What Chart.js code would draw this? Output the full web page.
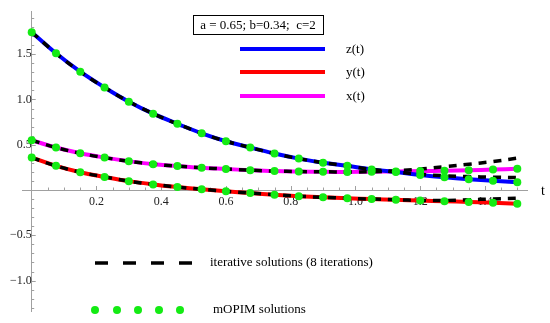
<!DOCTYPE html>
<html>
<head>
<meta charset="utf-8">
<script src="https://cdn.jsdelivr.net/npm/chart.js@4.4.1/dist/chart.umd.min.js"></script>
<style>
  body { margin: 0; background: #fff; }
  #wrap { width: 550px; height: 323px; }
</style>
</head>
<body>
<div id="wrap"><canvas id="plot" width="550" height="323"></canvas></div>
<script>
// sample times
const tValues = [0, 0.075, 0.15, 0.225, 0.3, 0.375, 0.45, 0.525, 0.6, 0.675, 0.75,
                 0.825, 0.9, 0.975, 1.05, 1.125, 1.2, 1.275, 1.35, 1.425, 1.5];

// mOPIM / exact curves
const zValues = [1.743, 1.51, 1.307, 1.133, 0.976, 0.843, 0.731, 0.626, 0.539, 0.469, 0.403,
                 0.347, 0.302, 0.267, 0.228, 0.198, 0.167, 0.141, 0.12, 0.103, 0.086];
const yValues = [0.358, 0.267, 0.197, 0.145, 0.098, 0.062, 0.033, 0.008, -0.014, -0.034, -0.052,
                 -0.068, -0.081, -0.091, -0.1, -0.108, -0.116, -0.124, -0.132, -0.141, -0.151];
const xValues = [0.55, 0.469, 0.406, 0.358, 0.318, 0.285, 0.265, 0.245, 0.232, 0.219, 0.209,
                 0.204, 0.201, 0.2, 0.202, 0.205, 0.209, 0.214, 0.219, 0.226, 0.235];

// iterative solutions (8 iterations), drift away near the end
const zIter = [1.743, 1.51, 1.307, 1.133, 0.976, 0.843, 0.731, 0.626, 0.539, 0.469, 0.403,
               0.347, 0.302, 0.267, 0.228, 0.199, 0.173, 0.158, 0.148, 0.142, 0.138];
const yIter = [0.358, 0.267, 0.197, 0.145, 0.098, 0.062, 0.033, 0.008, -0.014, -0.034, -0.052,
               -0.068, -0.081, -0.091, -0.1, -0.108, -0.114, -0.115, -0.107, -0.098, -0.09];
const xIter = [0.55, 0.469, 0.406, 0.358, 0.318, 0.285, 0.265, 0.245, 0.232, 0.219, 0.209,
               0.204, 0.201, 0.2, 0.202, 0.212, 0.232, 0.258, 0.285, 0.315, 0.352];

const xTickValues = [0.2, 0.4, 0.6, 0.8, 1.0, 1.2, 1.4];
const yTickValues = [-1.0, -0.5, 0.5, 1.0, 1.5];

const serif = "'Liberation Serif', 'Times New Roman', serif";
const green = "rgb(20,235,20)";

function pts(vals) {
    return tValues.map((t, i) => ({ x: t, y: vals[i] }));
}
function fmt(v) {
    return v.toFixed(1).replace("-", "\u2212");
}

// minor ticks, "t" label and the hand-made legends
const decorations = {
    id: "decorations",
    beforeDatasetsDraw(chart) {
        const ctx = chart.ctx;
        const xs = chart.scales.x, ys = chart.scales.y;
        const x0 = xs.getPixelForValue(0), y0 = ys.getPixelForValue(0);
        ctx.save();
        ctx.strokeStyle = "#a0a0a0";
        ctx.lineWidth = 1;
        ctx.beginPath();
        for (let v = 0.05; v < 1.53; v += 0.05) {
            const p = Math.round(xs.getPixelForValue(v)) + 0.5;
            const major = Math.abs(v * 5 - Math.round(v * 5)) < 1e-6;
            ctx.moveTo(p, y0);
            ctx.lineTo(p, y0 - (major ? 4 : 2.5));
        }
        for (let v = -1.3; v < 1.95; v += 0.1) {
            if (Math.abs(v) < 1e-6) continue;
            const p = Math.round(ys.getPixelForValue(v)) + 0.5;
            const major = Math.abs(v * 2 - Math.round(v * 2)) < 1e-6;
            ctx.moveTo(x0, p);
            ctx.lineTo(x0 + (major ? 4 : 2.5), p);
        }
        ctx.stroke();
        ctx.restore();
    },
    afterDraw(chart) {
        const ctx = chart.ctx;
        const xs = chart.scales.x, ys = chart.scales.y;
        ctx.save();
        ctx.fillStyle = "#000";
        ctx.textBaseline = "middle";

        // axis name
        ctx.font = "14px " + serif;
        ctx.fillText("t", xs.right + 14, ys.getPixelForValue(0) + 1);

        // parameter box
        ctx.font = "13px " + serif;
        ctx.strokeStyle = "#000";
        ctx.lineWidth = 1;
        ctx.strokeRect(193.5, 15.5, 130, 19);
        ctx.textAlign = "center";
        ctx.fillText("a = 0.65; b=0.34;  c=2", 258, 25.5);
        ctx.textAlign = "left";

        // curve legend
        const curves = [["z(t)", "#0000ff", 49], ["y(t)", "#ff0000", 72], ["x(t)", "#ff00ff", 96]];
        ctx.lineWidth = 4;
        curves.forEach(([label, color, y]) => {
            ctx.strokeStyle = color;
            ctx.beginPath();
            ctx.moveTo(240, y);
            ctx.lineTo(325, y);
            ctx.stroke();
            ctx.fillText(label, 346, y + 1);
        });

        // iterative legend
        ctx.strokeStyle = "#000";
        ctx.lineWidth = 3.5;
        ctx.setLineDash([13, 15]);
        ctx.beginPath();
        ctx.moveTo(95, 263);
        ctx.lineTo(193, 263);
        ctx.stroke();
        ctx.setLineDash([]);
        ctx.fillText("iterative solutions (8 iterations)", 210, 263);

        // mOPIM legend
        ctx.fillStyle = green;
        [95, 117, 138, 159, 180].forEach(x => {
            ctx.beginPath();
            ctx.arc(x, 310, 4, 0, Math.PI * 2);
            ctx.fill();
        });
        ctx.fillStyle = "#000";
        ctx.fillText("mOPIM solutions", 213, 310);
        ctx.restore();
    }
};

function solid(vals, color) {
    return { data: pts(vals), borderColor: color, borderWidth: 4, pointRadius: 0,
             tension: 0.4, order: 3 };
}
function dashed(vals) {
    return { data: pts(vals), borderColor: "#000", borderWidth: 3.5, borderDash: [8, 7],
             pointRadius: 0, tension: 0.4, order: 2 };
}
function dots(vals) {
    return { data: pts(vals), showLine: false, pointRadius: 4, pointBackgroundColor: green,
             pointBorderWidth: 0, order: 1 };
}

new Chart(document.getElementById("plot").getContext("2d"), {
    type: "line",
    data: {
        datasets: [
            solid(zValues, "#0000ff"), solid(yValues, "#ff0000"), solid(xValues, "#ff00ff"),
            dashed(zIter), dashed(yIter), dashed(xIter),
            dots(zValues), dots(yValues), dots(xValues)
        ]
    },
    options: {
        responsive: false,
        animation: false,
        layout: { padding: { left: 22, right: 23, top: 3, bottom: 3 } },
        plugins: { legend: { display: false }, tooltip: { enabled: false } },
        scales: {
            x: {
                type: "linear",
                min: -0.03,
                max: 1.53,
                position: { y: 0 },
                afterBuildTicks: s => { s.ticks = xTickValues.map(v => ({ value: v })); },
                grid: { display: false, drawTicks: false },
                border: { display: true, color: "#a0a0a0", width: 1 },
                ticks: { callback: fmt, font: { family: serif, size: 12 }, color: "#222",
                         padding: 5, maxRotation: 0, autoSkip: false }
            },
            y: {
                type: "linear",
                min: -1.345,
                max: 1.975,
                position: { x: 0 },
                afterBuildTicks: s => { s.ticks = yTickValues.map(v => ({ value: v })); },
                grid: { display: false, drawTicks: false },
                border: { display: true, color: "#a0a0a0", width: 1 },
                ticks: { callback: fmt, font: { family: serif, size: 12 }, color: "#222",
                         padding: 4, autoSkip: false }
            }
        }
    },
    plugins: [decorations]
});
</script>
</body>
</html>
